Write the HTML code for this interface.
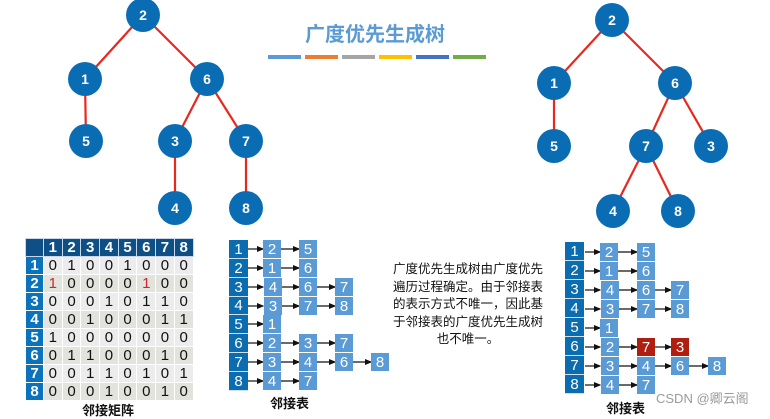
<!DOCTYPE html>
<html><head><meta charset="utf-8"><style>
*{margin:0;padding:0;box-sizing:border-box}
body{width:770px;height:414px;background:#fff;position:relative;overflow:hidden;font-family:"Liberation Sans","Noto Sans CJK SC",sans-serif}
.a{position:absolute}
.b{position:absolute;width:18px;height:18px;background:#5b9bd5;color:#fff;font-size:15px;text-align:center;line-height:19px}
.r{background:#b01e10}
.i{position:absolute;width:19px;background:#0b6db0;color:#fff;font-size:15px;text-align:center;border-bottom:1px solid #cfe0f0}
table{position:absolute;left:25px;top:238px;border-collapse:collapse;font-size:15px;font-weight:bold}
td{width:18.7px;height:17.6px;text-align:center;border:1px solid #fff;background:#ececec;color:#111;font-weight:normal;padding:0}
tr:nth-child(odd) td{background:#e3e3de}
th{background:#0e4f86;color:#fff;height:16px;border:1px solid #c8d8e8;padding:0}
td.h{background:#0b73bb!important;color:#fff;font-weight:bold;width:18px}
.red{color:#d0262e}
.lab{position:absolute;font-size:13px;font-weight:bold;color:#111}
</style></head><body>
<svg class="a" style="left:0;top:0" width="770" height="414">
<defs><marker id="m" markerWidth="6" markerHeight="6" refX="5" refY="3" orient="auto"><path d="M0,0.5 L6,3 L0,5.5z" fill="#111"/></marker></defs>
<g stroke="#e8281e" stroke-width="2.2">
<line x1="143" y1="15" x2="85" y2="79"/><line x1="143" y1="15" x2="207" y2="79"/><line x1="85" y1="79" x2="86" y2="141"/><line x1="207" y1="79" x2="175" y2="141"/><line x1="207" y1="79" x2="246" y2="141"/><line x1="175" y1="141" x2="175" y2="208"/><line x1="246" y1="141" x2="246" y2="208"/>
<line x1="612" y1="20" x2="554" y2="83"/><line x1="612" y1="20" x2="675" y2="83"/><line x1="554" y1="83" x2="554" y2="146"/><line x1="675" y1="83" x2="646" y2="146"/><line x1="675" y1="83" x2="711" y2="146"/><line x1="646" y1="146" x2="613" y2="211"/><line x1="646" y1="146" x2="678" y2="211"/>
</g>
<g fill="#0a6db3">
<circle cx="143" cy="15" r="17"/><circle cx="85" cy="79" r="17"/><circle cx="207" cy="79" r="17"/><circle cx="86" cy="141" r="17"/><circle cx="175" cy="141" r="17"/><circle cx="246" cy="141" r="17"/><circle cx="175" cy="208" r="17"/><circle cx="246" cy="208" r="17"/>
<circle cx="612" cy="20" r="17"/><circle cx="554" cy="83" r="17"/><circle cx="675" cy="83" r="17"/><circle cx="554" cy="146" r="17"/><circle cx="646" cy="146" r="17"/><circle cx="711" cy="146" r="17"/><circle cx="613" cy="211" r="17"/><circle cx="678" cy="211" r="17"/>
</g>
<g fill="#fff" font-size="14" font-weight="bold" text-anchor="middle" font-family="Liberation Sans">
<text x="143" y="20">2</text><text x="85" y="84">1</text><text x="207" y="84">6</text><text x="86" y="146">5</text><text x="175" y="146">3</text><text x="246" y="146">7</text><text x="175" y="213">4</text><text x="246" y="213">8</text>
<text x="612" y="25">2</text><text x="554" y="88">1</text><text x="675" y="88">6</text><text x="554" y="151">5</text><text x="646" y="151">7</text><text x="711" y="151">3</text><text x="613" y="216">4</text><text x="678" y="216">8</text>
</g>
<g>
<rect x="268" y="55" width="33" height="4" fill="#5b9bd5"/><rect x="305" y="55" width="33" height="4" fill="#ed7d31"/><rect x="342" y="55" width="33" height="4" fill="#a5a5a5"/><rect x="379" y="55" width="33" height="4" fill="#ffc000"/><rect x="416" y="55" width="33" height="4" fill="#4472c4"/><rect x="453" y="55" width="33" height="4" fill="#70ad47"/>
</g>
<g stroke="#111" stroke-width="1.2" marker-end="url(#m)">
<line x1="248" y1="249" x2="263" y2="249"/><line x1="281" y1="249" x2="299" y2="249"/>
<line x1="248" y1="268" x2="263" y2="268"/><line x1="281" y1="268" x2="299" y2="268"/>
<line x1="248" y1="287" x2="263" y2="287"/><line x1="281" y1="287" x2="299" y2="287"/><line x1="317" y1="287" x2="335" y2="287"/>
<line x1="248" y1="306" x2="263" y2="306"/><line x1="281" y1="306" x2="299" y2="306"/><line x1="317" y1="306" x2="335" y2="306"/>
<line x1="248" y1="324" x2="263" y2="324"/>
<line x1="248" y1="343" x2="263" y2="343"/><line x1="281" y1="343" x2="299" y2="343"/><line x1="317" y1="343" x2="335" y2="343"/>
<line x1="248" y1="362" x2="263" y2="362"/><line x1="281" y1="362" x2="299" y2="362"/><line x1="317" y1="362" x2="335" y2="362"/><line x1="353" y1="362" x2="371" y2="362"/>
<line x1="248" y1="381" x2="263" y2="381"/><line x1="281" y1="381" x2="299" y2="381"/>
<line x1="585" y1="252" x2="600" y2="252"/><line x1="618" y1="252" x2="637" y2="252"/>
<line x1="585" y1="271" x2="600" y2="271"/><line x1="618" y1="271" x2="637" y2="271"/>
<line x1="585" y1="290" x2="600" y2="290"/><line x1="618" y1="290" x2="637" y2="290"/><line x1="655" y1="290" x2="671" y2="290"/>
<line x1="585" y1="309" x2="600" y2="309"/><line x1="618" y1="309" x2="637" y2="309"/><line x1="655" y1="309" x2="671" y2="309"/>
<line x1="585" y1="328" x2="600" y2="328"/>
<line x1="585" y1="347" x2="600" y2="347"/><line x1="618" y1="347" x2="637" y2="347"/><line x1="655" y1="347" x2="671" y2="347"/>
<line x1="585" y1="366" x2="600" y2="366"/><line x1="618" y1="366" x2="637" y2="366"/><line x1="655" y1="366" x2="671" y2="366"/><line x1="689" y1="366" x2="708" y2="366"/>
<line x1="585" y1="385" x2="600" y2="385"/><line x1="618" y1="385" x2="637" y2="385"/>
</g>
</svg>
<div class="a" style="left:275px;top:18px;width:200px;text-align:center;color:#5b9bd5;font-size:20px;font-weight:bold">广度优先生成树</div>

<table>
<tr><th></th><th>1</th><th>2</th><th>3</th><th>4</th><th>5</th><th>6</th><th>7</th><th>8</th></tr>
<tr><td class="h">1</td><td>0</td><td>1</td><td>0</td><td>0</td><td>1</td><td>0</td><td>0</td><td>0</td></tr>
<tr><td class="h">2</td><td class="red">1</td><td>0</td><td>0</td><td>0</td><td>0</td><td class="red">1</td><td>0</td><td>0</td></tr>
<tr><td class="h">3</td><td>0</td><td>0</td><td>0</td><td>1</td><td>0</td><td>1</td><td>1</td><td>0</td></tr>
<tr><td class="h">4</td><td>0</td><td>0</td><td>1</td><td>0</td><td>0</td><td>0</td><td>1</td><td>1</td></tr>
<tr><td class="h">5</td><td>1</td><td>0</td><td>0</td><td>0</td><td>0</td><td>0</td><td>0</td><td>0</td></tr>
<tr><td class="h">6</td><td>0</td><td>1</td><td>1</td><td>0</td><td>0</td><td>0</td><td>1</td><td>0</td></tr>
<tr><td class="h">7</td><td>0</td><td>0</td><td>1</td><td>1</td><td>0</td><td>1</td><td>0</td><td>1</td></tr>
<tr><td class="h">8</td><td>0</td><td>0</td><td>0</td><td>1</td><td>0</td><td>0</td><td>1</td><td>0</td></tr>
</table>
<div class="lab" style="left:82px;top:400px">邻接矩阵</div>

<div class="i" style="left:229px;top:240px;height:19px;line-height:19px">1</div>
<div class="i" style="left:229px;top:259px;height:19px;line-height:19px">2</div>
<div class="i" style="left:229px;top:278px;height:19px;line-height:19px">3</div>
<div class="i" style="left:229px;top:297px;height:18px;line-height:18px">4</div>
<div class="i" style="left:229px;top:315px;height:19px;line-height:19px">5</div>
<div class="i" style="left:229px;top:334px;height:19px;line-height:19px">6</div>
<div class="i" style="left:229px;top:353px;height:19px;line-height:19px">7</div>
<div class="i" style="left:229px;top:372px;height:19px;line-height:19px">8</div>
<div class="b" style="left:263px;top:240px">2</div><div class="b" style="left:299px;top:240px">5</div>
<div class="b" style="left:263px;top:259px">1</div><div class="b" style="left:299px;top:259px">6</div>
<div class="b" style="left:264px;top:278px">4</div><div class="b" style="left:299px;top:278px">6</div><div class="b" style="left:335px;top:278px">7</div>
<div class="b" style="left:264px;top:297px">3</div><div class="b" style="left:299px;top:297px">7</div><div class="b" style="left:335px;top:297px">8</div>
<div class="b" style="left:263px;top:315px">1</div>
<div class="b" style="left:263px;top:334px">2</div><div class="b" style="left:299px;top:334px">3</div><div class="b" style="left:335px;top:334px">7</div>
<div class="b" style="left:263px;top:353px">3</div><div class="b" style="left:299px;top:353px">4</div><div class="b" style="left:335px;top:353px">6</div><div class="b" style="left:371px;top:353px">8</div>
<div class="b" style="left:263px;top:372px">4</div><div class="b" style="left:299px;top:372px">7</div>
<div class="lab" style="left:270px;top:393px">邻接表</div>

<div class="a" style="left:378px;top:261px;width:180px;text-align:center;font-size:12.5px;line-height:17.5px;color:#111;white-space:nowrap">广度优先生成树由广度优先<br>遍历过程确定。由于邻接表<br>的表示方式不唯一，因此基<br>于邻接表的广度优先生成树<br>也不唯一。</div>

<div class="i" style="left:565px;top:242px;height:19px;line-height:19px">1</div>
<div class="i" style="left:565px;top:261px;height:19px;line-height:19px">2</div>
<div class="i" style="left:565px;top:280px;height:19px;line-height:19px">3</div>
<div class="i" style="left:565px;top:299px;height:19px;line-height:19px">4</div>
<div class="i" style="left:565px;top:318px;height:19px;line-height:19px">5</div>
<div class="i" style="left:565px;top:337px;height:19px;line-height:19px">6</div>
<div class="i" style="left:565px;top:356px;height:19px;line-height:19px">7</div>
<div class="i" style="left:565px;top:375px;height:19px;line-height:19px">8</div>
<div class="b" style="left:600px;top:243px">2</div><div class="b" style="left:637px;top:243px">5</div>
<div class="b" style="left:600px;top:262px">1</div><div class="b" style="left:637px;top:262px">6</div>
<div class="b" style="left:601px;top:281px">4</div><div class="b" style="left:637px;top:281px">6</div><div class="b" style="left:671px;top:281px">7</div>
<div class="b" style="left:601px;top:300px">3</div><div class="b" style="left:637px;top:300px">7</div><div class="b" style="left:671px;top:300px">8</div>
<div class="b" style="left:600px;top:319px">1</div>
<div class="b" style="left:601px;top:338px">2</div><div class="b r" style="left:637px;top:338px">7</div><div class="b r" style="left:671px;top:338px">3</div>
<div class="b" style="left:601px;top:357px">3</div><div class="b" style="left:637px;top:357px">4</div><div class="b" style="left:671px;top:357px">6</div><div class="b" style="left:708px;top:357px">8</div>
<div class="b" style="left:601px;top:376px">4</div><div class="b" style="left:637px;top:376px">7</div>
<div class="lab" style="left:606px;top:398px">邻接表</div>
<div class="a" style="left:656px;top:388px;font-size:13px;color:#9a9a9a">CSDN @卿云阁</div>
</body></html>
